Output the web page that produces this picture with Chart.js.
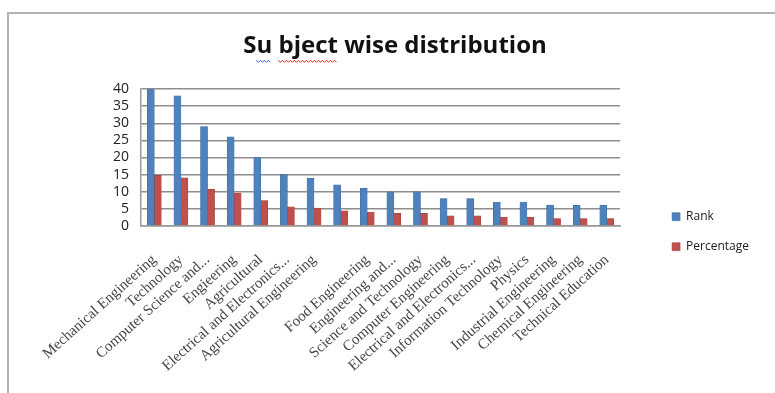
<!DOCTYPE html>
<html>
<head>
<meta charset="utf-8">
<title>Subject wise distribution</title>
<script src="https://cdn.jsdelivr.net/npm/chart.js@4.4.0/dist/chart.umd.min.js"></script>
<style>
    html, body { margin: 0; padding: 0; background: #fff; }
    #wrap { position: relative; width: 775px; height: 393px; overflow: hidden; }
    #frame {
        position: absolute; left: 7px; top: 12px; width: 800px; height: 400px;
        border-left: 2px solid #b4b4b4; border-top: 2px solid #b4b4b4;
    }
    #chart { position: absolute; left: 0; top: 0; }
</style>
</head>
<body>
<div id="wrap">
    <div id="frame"></div>
    <canvas id="chart" width="775" height="393"></canvas>
</div>
<script>
const subjects = [
    'Mechanical Engineering',
    'Technology',
    'Computer Science and...',
    'Engieering',
    'Agricultural',
    'Electrical and Electronics...',
    'Agricultural Engineering',
    '',
    'Food Engineering',
    'Engineering and...',
    'Science and Technology',
    'Computer Engineering',
    'Electrical and Electronics...',
    'Information Technology',
    'Physics',
    'Industrial Engineering',
    'Chemical Engineering',
    'Technical Education'
];
const rankValues = [40, 38, 29, 26, 20, 15, 14, 12, 11, 10, 10, 8, 8, 7, 7, 6, 6, 6];
const percentageValues = [14.8, 14.1, 10.7, 9.6, 7.4, 5.6, 5.2, 4.4, 4.1, 3.7, 3.7, 3.0, 3.0, 2.6, 2.6, 2.2, 2.2, 2.2];
const yTicks = [0, 5, 10, 15, 20, 25, 30, 35, 40];

const BLUE = '#4f81bd';
const RED = '#c0504d';
const TITLE_FONT = 'bold 24px "Open Sans"';

// spell-check squiggles under the title, as in the screenshot
const squiggles = {
    id: 'squiggles',
    afterDraw(chart) {
        const t = chart.titleBlock;
        if (!t) return;
        const ctx = chart.ctx;
        const text = chart.options.plugins.title.text;
        ctx.save();
        ctx.font = TITLE_FONT;
        const full = ctx.measureText(text).width;
        const x0 = (t.left + t.right) / 2 - full / 2;
        const y = t.top + t.height - t.options.padding.bottom;
        const wS = ctx.measureText('S').width;
        const wSu = ctx.measureText('Su').width;
        const wSuSp = ctx.measureText('Su ').width;
        const wWord = ctx.measureText('Su bject').width;
        const wave = (a, b, color) => {
            ctx.beginPath();
            ctx.strokeStyle = color;
            ctx.lineWidth = 1;
            for (let x = a, i = 0; x <= b; x += 2, i++) {
                const yy = y + (i % 2 ? 1.5 : -0.5);
                if (i === 0) ctx.moveTo(x, yy); else ctx.lineTo(x, yy);
            }
            ctx.stroke();
        };
        wave(x0 + wS, x0 + wSu, '#3355ee');
        wave(x0 + wSuSp, x0 + wWord, '#e02020');
        ctx.restore();
    }
};

new Chart(document.getElementById('chart'), {
    type: 'bar',
    data: {
        labels: subjects,
        datasets: [
            { label: 'Rank', data: rankValues, backgroundColor: BLUE, borderColor: '#3a679c', borderWidth: 0.5 },
            { label: 'Percentage', data: percentageValues, backgroundColor: RED, borderColor: '#9c3a37', borderWidth: 0.5 }
        ]
    },
    options: {
        responsive: false,
        animation: false,
        layout: { padding: { top: 0, right: 16, bottom: 0, left: 31 } },
        datasets: { bar: { barThickness: 7 } },
        plugins: {
            title: {
                display: true,
                text: 'Su bject wise distribution',
                color: '#111',
                font: { family: 'Open Sans', size: 24, weight: 'bold' },
                padding: { top: 32, bottom: 28.2 }
            },
            legend: {
                position: 'right',
                title: {
                    display: true,
                    text: ' ',
                    font: { size: 12 },
                    padding: { top: 28, bottom: 28 }
                },
                labels: {
                    boxWidth: 8,
                    boxHeight: 8,
                    padding: 18,
                    color: '#222',
                    font: { family: 'Open Sans', size: 12 }
                }
            },
            tooltip: { enabled: false }
        },
        scales: {
            x: {
                grid: { display: false, drawTicks: false },
                border: { color: '#999', width: 1.5 },
                ticks: {
                    autoSkip: false,
                    minRotation: 42,
                    maxRotation: 42,
                    padding: 25,
                    color: '#444',
                    font: { family: 'Liberation Serif', size: 15 }
                },
                afterFit: axis => { axis.height = 167; }
            },
            y: {
                min: 0,
                max: 40,
                afterBuildTicks: axis => { axis.ticks = yTicks.map(v => ({ value: v })); },
                grid: { color: '#8e8e8e', lineWidth: 1.5, drawTicks: false },
                border: { color: '#999', width: 1.5 },
                ticks: {
                    autoSkip: false,
                    padding: 12,
                    color: '#222',
                    font: { family: 'Open Sans', size: 14 }
                },
                afterFit: axis => { axis.width = 110; }
            },
            gap: {
                position: 'right',
                display: true,
                grid: { display: false, drawTicks: false },
                border: { display: false },
                ticks: { display: false },
                afterFit: axis => { axis.width = 34; }
            }
        }
    },
    plugins: [squiggles]
});
</script>
</body>
</html>
